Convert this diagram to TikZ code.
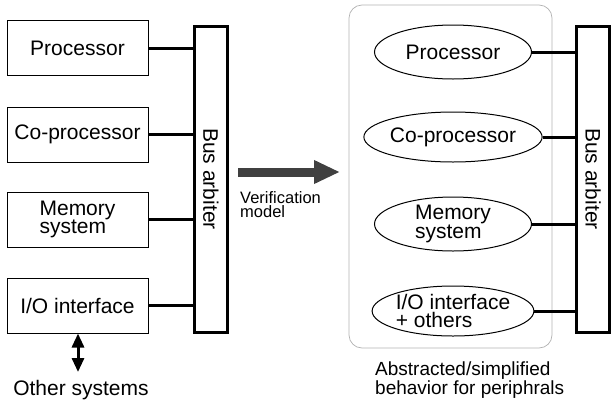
\documentclass[tikz,border=0pt]{standalone}
\usepackage{fontspec}
\setmainfont{Liberation Sans}
\usetikzlibrary{arrows.meta,shapes.geometric,positioning}

\tikzset{
  unit/.style={rectangle, draw, line width=1pt, minimum width=141pt, minimum height=55pt,
    align=center, font=\fontsize{21}{18.5}\selectfont},
  oval/.style={ellipse, draw, line width=1pt, minimum width=157pt, minimum height=54pt,
    inner sep=0pt, align=center, font=\fontsize{21}{18.5}\selectfont},
  bus/.style={rectangle, draw, line width=3pt, minimum width=306pt, minimum height=33pt,
    rotate=-90, font=\fontsize{21}{17}\selectfont},
  link/.style={line width=3pt}
}

\begin{document}
\begin{tikzpicture}[x=1pt, y=-1pt]
  \useasboundingbox (0,0) rectangle (613,402);

  % Real system
  \node [unit] (proc) at (77.5,48) {Processor};
  \node [unit] (coproc) at (77.5,134.5) {Co-processor};
  \node [unit, align=left] (mem) at (77.5,219.5) {Memory\\system};
  \node [unit] (io) at (77.5,305.5) {I/O interface};
  \node [bus] (lbus) at (211,179) {Bus arbiter};
  \node [font=\fontsize{21}{17}\selectfont] (other) at (81,390) {Other systems};

  % Connections
  \draw [link] (proc.east) -- (proc.east -| lbus.south);
  \draw [link] (coproc.east) -- (coproc.east -| lbus.south);
  \draw [link] (mem.east) -- (mem.east -| lbus.south);
  \draw [link] (io.east) -- (io.east -| lbus.south);
  \coordinate (ext) at (78,372);
  \draw [line width=3pt, {Triangle[length=14pt,width=12pt]}-{Triangle[length=14pt,width=12pt]}]
    (io.south -| ext) -- (ext);

  % Transformation
  \coordinate (from) at (238,172);
  \coordinate (to) at (340,172);
  \draw [line width=9pt, color=black!75, -{Triangle[length=26pt,width=22pt]}] (from) -- (to);
  \node [anchor=north west, align=left, inner sep=0pt, font=\fontsize{16.5}{14.5}\selectfont]
    (verif) at (240,191) {Verification\\model};

  % Verification model
  \draw [black!30, line width=0.7pt, rounded corners=13pt] (349,5) rectangle (552,348);
  \node [oval] (vproc) at (453,52) {Processor};
  \node [oval, minimum height=50pt] (vcoproc) at (453,137) {Co-processor};
  \node [oval, align=left] (vmem) at (453,224) {Memory\\system};
  \node [oval, minimum height=50pt, align=left] (vio) at (453,311) {I/O interface\\+ others};
  \node [bus] (rbus) at (593,179) {Bus arbiter};
  \node [anchor=north west, align=left, inner sep=0pt, font=\fontsize{19}{15.5}\selectfont]
    (abs) at (375,362) {Abstracted/simplified\\behavior for periphrals};

  \draw [link] (vproc.east) -- (vproc.east -| rbus.south);
  \draw [link] (vcoproc.east) -- (vcoproc.east -| rbus.south);
  \draw [link] (vmem.east) -- (vmem.east -| rbus.south);
  \draw [link] (vio.east) -- (vio.east -| rbus.south);
\end{tikzpicture}
\end{document}
